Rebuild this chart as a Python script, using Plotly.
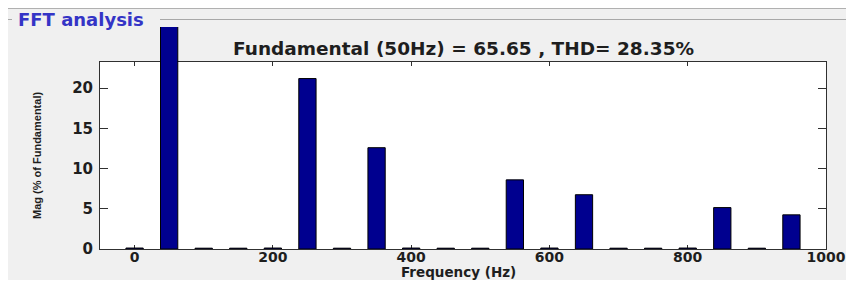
import plotly.graph_objects as go

# ---------------- data ----------------
freqs = [0, 50, 100, 150, 200, 250, 300, 350, 400, 450,
         500, 550, 600, 650, 700, 750, 800, 850, 900, 950]
mags = [0.12, 100.0, 0.1, 0.1, 0.12, 21.2, 0.1, 12.6, 0.12, 0.1,
        0.1, 8.6, 0.12, 6.75, 0.1, 0.1, 0.12, 5.15, 0.1, 4.25]
x_ticks = [0, 200, 400, 600, 800, 1000]
y_ticks = [0, 5, 10, 15, 20]
panel_title = "FFT analysis"
chart_title = "Fundamental (50Hz) = 65.65 , THD= 28.35%"
x_label = "Frequency (Hz)"
y_label = "Mag (% of Fundamental)"

# ---------------- layout helpers ----------------
# the page body has an 8px default margin; the figure is sized so it
# ends at the window's right edge and just above its bottom edge.
# All positions below are given in page pixels.
OFF = 8
FW, FH = 854 - OFF, 288 - 2 * OFF


def fx(p):
    return (p - OFF) / FW


def fy(p):
    return 1 - (p - OFF) / FH


L, R, T, B, BAR_TOP = 100, 826, 62, 249, 27
PX_PER_UNIT = 8.04
y_frame_max = (B - T) / PX_PER_UNIT
y_bar_max = (B - BAR_TOP) / PX_PER_UNIT
x_range = [-50, 1000]

TXT = "#1e1e1e"
AX = "#303030"
tick_font = dict(family="DejaVu Sans", size=14, color=TXT, weight="bold")

fig = go.Figure()
# empty trace so the frame subplot exists (drawn first, below the bars)
fig.add_trace(go.Scatter(x=[], y=[], xaxis="x", yaxis="y", showlegend=False))
fig.add_trace(go.Bar(
    x=freqs, y=mags, width=25,
    marker=dict(color="#00008f", line=dict(color="#000000", width=1)),
    xaxis="x2", yaxis="y2", showlegend=False,
))

fig.update_layout(
    width=FW, height=FH, autosize=False,
    margin=dict(l=0, r=0, t=0, b=0, pad=0),
    paper_bgcolor="#f0f0f0",
    plot_bgcolor="rgba(0,0,0,0)",
    showlegend=False,
    xaxis=dict(domain=[fx(L), fx(R)], range=x_range, anchor="y",
               tickvals=x_ticks, ticktext=[str(v) for v in x_ticks],
               ticks="inside", ticklen=4, tickwidth=1, tickcolor=AX,
               showline=True, linecolor=AX, linewidth=1, mirror="ticks",
               showgrid=False, zeroline=False, tickfont=tick_font,
               ticklabelstandoff=-5, automargin=False, fixedrange=True),
    yaxis=dict(domain=[fy(B), fy(T)], range=[0, y_frame_max], anchor="x",
               tickvals=y_ticks, ticktext=[str(v) for v in y_ticks],
               ticks="inside", ticklen=8, tickwidth=1, tickcolor=AX,
               showline=True, linecolor=AX, linewidth=1, mirror="ticks",
               showgrid=False, zeroline=False,
               tickfont=dict(family="DejaVu Sans", size=15, color=TXT, weight="bold"),
               ticklabelstandoff=3, automargin=False, fixedrange=True),
    xaxis2=dict(domain=[fx(L), fx(R)], range=x_range, anchor="y2",
                visible=False, fixedrange=True),
    yaxis2=dict(domain=[fy(B), fy(BAR_TOP)], range=[0, y_bar_max],
                anchor="x2", visible=False, fixedrange=True),
)

shapes = [
    # white plotting area
    dict(type="rect", xref="paper", yref="paper", layer="below",
         x0=fx(L), x1=fx(R), y0=fy(B), y1=fy(T),
         fillcolor="#ffffff", line=dict(width=0)),
    # group-box lines
    dict(type="line", xref="paper", yref="paper",
         x0=0, x1=1, y0=fy(8.5), y1=fy(8.5),
         line=dict(color="#b0b0b0", width=1)),
    dict(type="line", xref="paper", yref="paper",
         x0=0, x1=fx(12), y0=fy(19.5), y1=fy(19.5),
         line=dict(color="#a8a8a8", width=1)),
    dict(type="line", xref="paper", yref="paper",
         x0=fx(160), x1=1, y0=fy(19.5), y1=fy(19.5),
         line=dict(color="#a8a8a8", width=1)),
]
fig.update_layout(shapes=shapes)

annotations = [
    dict(text=panel_title, xref="paper", yref="paper", x=fx(17), y=fy(19.5),
         xanchor="left", yanchor="middle", showarrow=False, borderpad=0,
         font=dict(family="DejaVu Sans", size=18, color="#3434c6", weight="bold")),
    dict(text=chart_title, xref="paper", yref="paper", x=fx(463), y=fy(48.5),
         xanchor="center", yanchor="middle", showarrow=False, borderpad=0,
         font=dict(family="DejaVu Sans", size=18.5, color=TXT, weight="bold")),
    dict(text=x_label, xref="paper", yref="paper", x=fx(458), y=fy(272),
         xanchor="center", yanchor="middle", showarrow=False, borderpad=0,
         font=dict(family="DejaVu Sans", size=13.5, color=TXT, weight="bold")),
    dict(text=y_label, xref="paper", yref="paper", x=fx(37), y=fy(156),
         xanchor="center", yanchor="middle", showarrow=False, textangle=-90,
         borderpad=0,
         font=dict(family="Liberation Sans", size=11, color=TXT, weight="bold")),
]
fig.update_layout(annotations=annotations)

fig.write_html("out.html")
